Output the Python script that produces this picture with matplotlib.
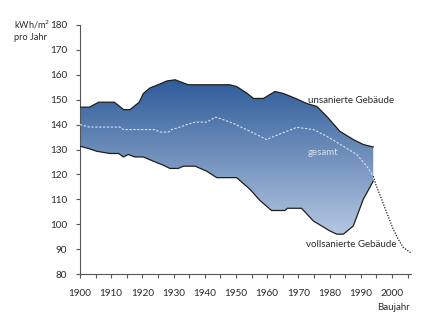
import numpy as np
import matplotlib.pyplot as plt
from matplotlib.colors import LinearSegmentedColormap
from matplotlib.patches import Polygon

plt.rcParams['font.family'] = ['Lato', 'DejaVu Sans']

# Heizenergiebedarf nach Baujahr (kWh/m² pro Jahr)
years_upper = [1900, 1903, 1906, 1911, 1914, 1916, 1919, 1920.3, 1922.4, 1925.6, 1927.8,
               1930.5, 1931.5, 1934.7, 1948, 1950.2, 1953.4, 1955.6, 1958.8, 1962.5,
               1965.2, 1969.5, 1972.6, 1975.9, 1979.1, 1983.3, 1987.6, 1990.8, 1994]
unsaniert = [147, 147, 149, 149, 146, 146, 149, 152.5, 154.7, 156.3, 157.5,
             158, 157.5, 156, 156, 155.3, 152.7, 150.5, 150.5, 153.3,
             152.5, 150.3, 148.5, 147.3, 143.3, 137.3, 134, 132, 131]

years_lower = [1900, 1903, 1905.3, 1909.6, 1912.4, 1913.9, 1915.5, 1917.6, 1920.3, 1923.5,
               1926.7, 1928.8, 1931.5, 1933.1, 1936.9, 1940.6, 1943.8, 1950.2, 1954.5,
               1957.7, 1961.4, 1965.7, 1966.5, 1971, 1974.8, 1980.1, 1982.3, 1984.4,
               1987.6, 1990.8, 1994]
vollsaniert = [131.3, 130.3, 129.3, 128.4, 128.4, 127, 128, 127, 127, 125.3,
               123.7, 122.4, 122.4, 123.3, 123.3, 121.3, 118.7, 118.7, 114,
               109.5, 105.5, 105.5, 106.4, 106.4, 101.3, 97.3, 96, 96,
               99.3, 110, 117.3]

years_total = [1900, 1903, 1912.8, 1913.9, 1924, 1925.6, 1928.3, 1929.4, 1932, 1934.2,
               1936.9, 1940.6, 1943.5, 1945.9, 1949.1, 1954.5, 1959.8, 1963.6, 1969.5,
               1974.8, 1979.1, 1984.4, 1988.7, 1991.9, 1994, 1995, 1996.7, 1998.3,
               2000.4, 2002, 2003.6, 2006.3]
gesamt = [140, 139, 139, 138, 138, 137, 137, 138, 139, 140,
          141, 141, 143, 142, 140.5, 137.3, 134, 136, 138.9,
          138, 135.3, 131.3, 128, 123.3, 119.3, 115.3, 110, 104.7,
          98, 94, 90.7, 88.3]

x_ticks = list(range(1900, 2001, 10))
y_ticks = list(range(80, 181, 10))

fig = plt.figure(figsize=(4.28, 3.32), dpi=100)
ax = fig.add_axes([80 / 428, 58 / 332, 330.7 / 428, 249 / 332])
ax.set_xlim(1900, 2006)
ax.set_ylim(80, 180)

# band between the two building states, shaded with a vertical gradient
band = list(zip(years_upper, unsaniert)) + list(zip(years_lower[::-1], vollsaniert[::-1]))
poly = Polygon(band, closed=True, facecolor='none', edgecolor='none')
ax.add_patch(poly)
cmap = LinearSegmentedColormap.from_list('band', ['#b7c9e2', '#2d5a98'])
grad = np.linspace(0, 1, 256).reshape(-1, 1)
img = ax.imshow(grad, cmap=cmap, origin='lower', aspect='auto',
                extent=(1900, 1994, 95, 158.5), zorder=1)
img.set_clip_path(poly)

ax.plot(years_upper, unsaniert, color='#1e1e1e', lw=0.9, zorder=3)
ax.plot(years_lower, vollsaniert, color='#1e1e1e', lw=0.9, zorder=3)

yt = np.array(years_total)
gt = np.array(gesamt)
inner = yt <= 1994
outer = yt >= 1994
ax.plot(yt[inner], gt[inner], color='#dbe5f2', lw=0.8, ls=(0, (2, 1.5)), zorder=4)
ax.plot(yt[outer], gt[outer], color='#1e1e1e', lw=0.9, ls=(0, (1, 1.2)),
        zorder=4, clip_on=False)

txt = '#2a2a2a'
ax.text(1973, 149.8, 'unsanierte Gebäude', fontsize=7, color=txt, va='center', ha='left')
ax.text(1973, 128.8, 'gesamt', fontsize=7, color='#d5dfec', va='center', ha='left')
ax.text(1972.5, 91.7, 'vollsanierte Gebäude', fontsize=7, color=txt, va='center', ha='left')

for s in ['top', 'right']:
    ax.spines[s].set_visible(False)
for s in ['left', 'bottom']:
    ax.spines[s].set_color('#555555')
    ax.spines[s].set_linewidth(0.8)

ax.set_xticks(x_ticks)
ax.set_xticks(np.arange(1905, 2006, 5), minor=True)
ax.set_yticks(y_ticks)
ax.tick_params(axis='both', which='both', direction='out', length=3, width=0.8,
               color='#555555', labelsize=7.2, labelcolor=txt)
ax.tick_params(axis='x', which='major', pad=8)
ax.tick_params(axis='y', which='major', pad=6)

fig.text(14 / 428, 1 - 25 / 332, 'kWh/m$^2$', fontsize=6.6, color=txt, va='center', ha='left')
fig.text(14 / 428, 1 - 37 / 332, 'pro Jahr', fontsize=6.6, color=txt, va='center', ha='left')
fig.text(393 / 428, 1 - 308 / 332, 'Baujahr', fontsize=7, color=txt, va='center', ha='center')

fig.savefig('out.png', dpi=100)
